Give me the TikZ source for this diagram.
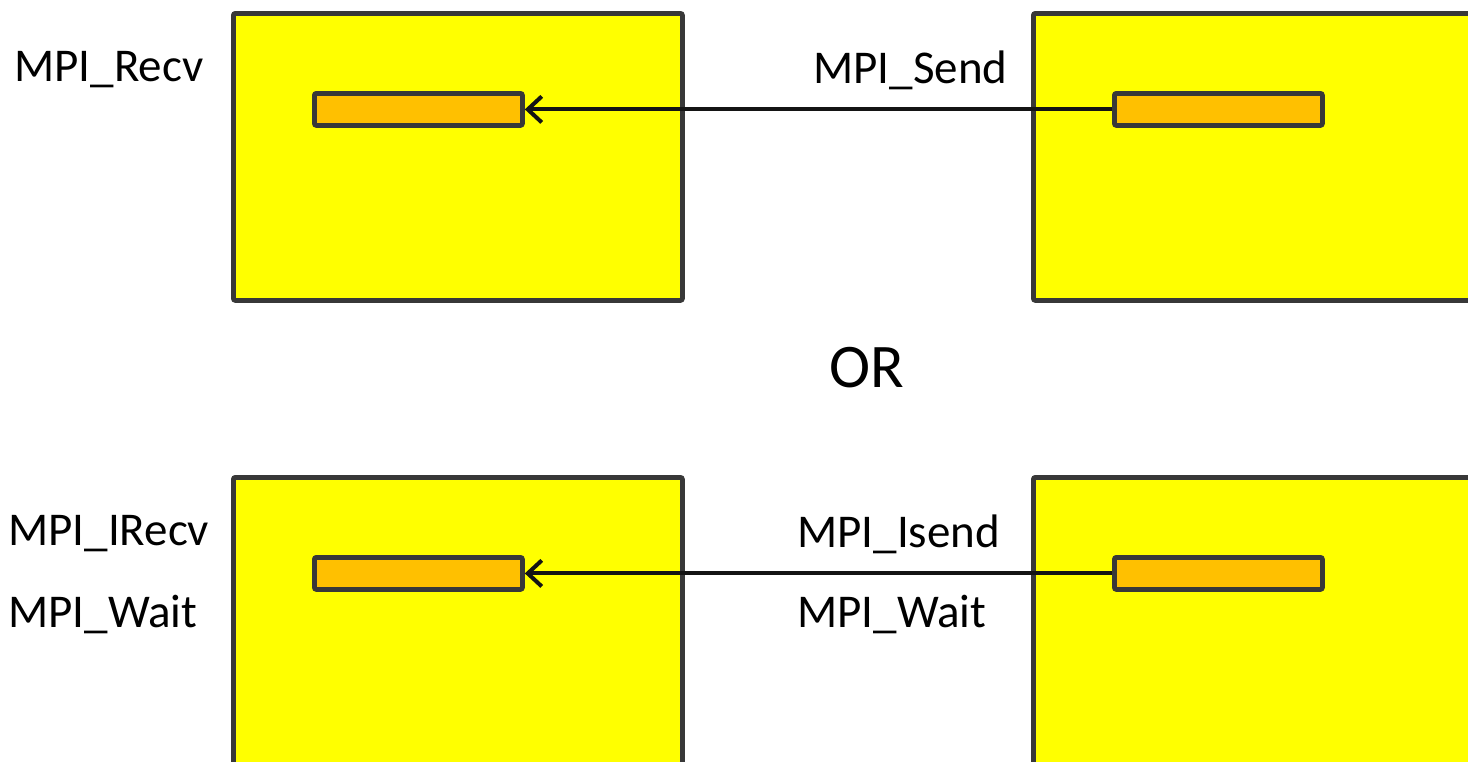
\documentclass[tikz,border=0pt]{standalone}
\usepackage{fontspec}
\setmainfont{Carlito}
\usetikzlibrary{arrows.meta}
\definecolor{boxyellow}{HTML}{FFFF00}
\definecolor{barorange}{HTML}{FFC000}
\definecolor{edge}{HTML}{383838}
\definecolor{arrowc}{HTML}{141414}
\tikzset{
  bigbox/.style={draw=edge, fill=boxyellow, line width=2.4pt, rounded corners=1pt, anchor=north west, inner sep=0pt},
  bar/.style={draw=edge, fill=barorange, line width=2.4pt, rounded corners=1pt, minimum width=104pt, minimum height=16pt, inner sep=0pt, anchor=north west},
  lbl/.style={font=\fontsize{23.5}{28}\selectfont, anchor=west, inner sep=0pt},
  msg/.style={draw=arrowc, line width=2pt, -{Straight Barb[length=7pt,width=13pt,line width=2pt]}}
}
\begin{document}
\begin{tikzpicture}[x=0.5pt,y=-0.5pt]
\useasboundingbox (0,0) rectangle (1468,761);
\clip (0,0) rectangle (1468,761);
% top row
\node[bigbox, minimum width=224.5pt, minimum height=143.5pt] (tl) at (231,11) {};
\node[bigbox, minimum width=240pt, minimum height=143.5pt] (tr) at (1031,11) {};
\node[bar] (tlbar) at (312,91) {};
\node[bar] (trbar) at (1112,91) {};
\draw[msg] (trbar.west) -- (tlbar.east);
\node[lbl] (recv) at (14,70) {MPI\_Recv};
\node[lbl] (send) at (813,70) {MPI\_Send};
% OR
\node[font=\fontsize{31}{36}\selectfont, inner sep=0pt] (or) at (867,368) {OR};
% bottom row
\node[bigbox, minimum width=224.5pt, minimum height=160pt] (bl) at (231,475) {};
\node[bigbox, minimum width=240pt, minimum height=160pt] (br) at (1031,475) {};
\node[bar] (blbar) at (312,555) {};
\node[bar] (brbar) at (1112,555) {};
\draw[msg] (brbar.west) -- (blbar.east);
\node[lbl] (irecv) at (8,534) {MPI\_IRecv};
\node[lbl] (waitl) at (8,614) {MPI\_Wait};
\node[lbl] (isend) at (797,534) {MPI\_Isend};
\node[lbl] (waitr) at (797,614) {MPI\_Wait};
\end{tikzpicture}
\end{document}
